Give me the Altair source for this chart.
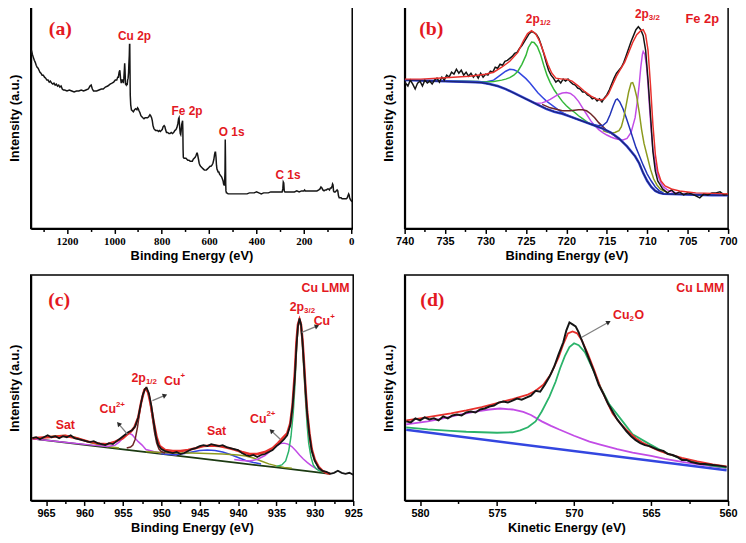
import altair as alt
import pandas as pd

# ---------------- colours ----------------
BLACK = "#151515"
RED = "#e8302c"
BLUE = "#3346e0"
DKBLUE = "#2233b8"
NAVY = "#1d2470"
GREEN = "#35b83a"
TEAL = "#2bb36a"
OLIVE = "#8c9a1e"
MAGENTA = "#c24ce6"
BROWN = "#6e2626"
LABEL_RED = "#e3191f"

# ================= (a) survey =================
A_EV = [1350, 1346, 1342, 1338, 1334, 1330, 1326, 1322, 1318, 1314, 1310, 1305, 1300, 1295, 1290, 1285, 1280, 1275, 1270, 1265,
        1260, 1255, 1250, 1245, 1240, 1235, 1230, 1225, 1220, 1215, 1210, 1200, 1190, 1180, 1170, 1160, 1150, 1140, 1130, 1120,
        1110, 1103, 1098, 1093, 1088, 1082, 1075, 1065, 1055, 1047, 1038, 1028, 1018, 1010, 1003, 996, 990, 986, 983, 980,
        977, 974, 971, 968, 965, 962, 960, 958, 956.5, 955, 953, 950, 948, 946, 944, 942, 940, 939, 937, 936,
        935, 934, 933, 931, 928, 924, 920, 915, 910, 905, 902, 899, 896, 892, 888, 884, 880, 875, 870, 865,
        860, 855, 850, 847, 843, 840, 837, 833, 830, 826, 822, 818, 814, 810, 806, 802, 798, 794, 790, 787,
        784, 780, 775, 770, 765, 760, 755, 750, 745, 740, 736, 732, 729, 727, 725, 722, 720, 718, 716, 714,
        712, 711, 710, 709, 706, 702, 698, 694, 690, 685, 680, 675, 671, 667, 663, 659, 655, 652, 650, 648,
        645, 642, 639, 636, 632, 628, 624, 620, 616, 612, 608, 604, 600, 596, 592, 588, 584, 580, 577, 575,
        573, 571, 569, 567, 565, 562, 559, 556, 553, 550, 547, 544, 541, 539, 537, 535, 533, 532, 531, 530,
        529, 527, 525, 520, 510, 500, 490, 480, 470, 460, 450, 440, 430, 420, 410, 400, 390, 380, 370, 360,
        350, 340, 330, 320, 310, 300, 292, 289, 287, 285, 283, 280, 270, 260, 250, 240, 230, 220, 210, 200,
        197, 194, 185, 175, 165, 155, 145, 137, 132, 128, 124, 120, 115, 110, 105, 100, 96, 92, 88, 84,
        81, 79, 77, 75, 72, 68, 64, 60, 57, 54, 51, 47, 43, 39, 35, 31, 27, 24, 21, 17,
        14, 11, 9, 7, 5, 3, 0, -3]
A_INT = [180, 176, 173, 170, 168, 165, 163, 162, 160, 158, 157, 155, 155, 153, 152, 150, 150, 148, 149, 147,
         146, 147, 145, 146, 144, 145, 143, 144, 141, 140, 140, 139, 140, 139, 138, 139, 139, 140, 139, 140,
         141, 144, 145, 141, 139, 139, 139, 140, 141, 141, 143, 144, 146, 147, 148, 150, 150, 153, 153, 158,
         160, 152, 147, 150, 150, 147, 152, 160, 167, 160, 146, 145, 147, 145, 150, 152, 158, 165, 175, 186,
         186, 160, 135, 125, 120, 119, 118, 120, 121, 120, 122, 121, 119, 117, 114, 113, 112, 111, 112, 112,
         112, 113, 115, 114, 112, 109, 104, 101, 100, 99, 99, 99, 98, 99, 98, 99, 100, 103, 104, 103,
         100, 97, 97, 96, 96, 97, 96, 97, 99, 100, 102, 106, 111, 112, 104, 96, 95, 99, 105, 107,
         109, 100, 80, 72, 71, 71, 71, 70, 69, 69, 68, 68, 68, 70, 71, 72, 74, 76, 76, 74,
         70, 66, 64, 63, 62, 61, 60, 59, 59, 59, 60, 61, 62, 63, 63, 64, 66, 70, 75, 77,
         77, 72, 64, 60, 59, 57, 57, 55, 54, 53, 52, 50, 48, 45, 44, 44, 58, 90, 72, 45,
         38, 36, 36, 35, 35, 35, 35, 35, 35, 35, 35, 35, 36, 36, 36, 37, 36, 35, 36, 36,
         36, 37, 37, 37, 37, 37, 37, 40, 47, 46, 38, 37, 37, 37, 37, 37, 38, 37, 38, 38,
         39, 38, 38, 38, 38, 38, 38, 39, 40, 42, 41, 39, 38, 39, 39, 40, 40, 39, 41, 41,
         43, 45, 44, 38, 37, 37, 38, 39, 38, 33, 31, 31, 31, 30, 30, 30, 30, 30, 30, 31,
         33, 35, 34, 31, 30, 29, 28, 27]
A_TICKS = [1300, 1200, 1100, 1000, 900, 800, 700, 600, 500, 400, 300, 200, 100, 0]
A_LBL_TEXT = ["Cu 2p", "Fe 2p", "O 1s", "C 1s"]
A_LBL_EV = [915, 693, 505, 267]
A_LBL_INT = [195, 119, 97, 54]

# ================= (b) Fe 2p =================
B_DATA_EV = [740.0, 739.6, 739.3, 739.0, 738.7, 738.4, 738.1, 737.8, 737.5, 737.2, 736.9, 736.6, 736.3, 736.0, 735.7, 735.4,
             735.1, 734.8, 734.5, 734.2, 733.9, 733.6, 733.3, 733.0, 732.7, 732.4, 732.1, 731.8, 731.5, 731.2, 730.9, 730.6,
             730.3, 730.0, 729.7, 729.4, 729.1, 728.8, 728.5, 728.2, 727.9, 727.6, 727.3, 727.0, 726.7, 726.4, 726.1, 725.8,
             725.5, 725.2, 724.9, 724.6, 724.3, 724.0, 723.7, 723.4, 723.1, 722.8, 722.5, 722.2, 721.9, 721.6, 721.3, 721.0,
             720.7, 720.4, 720.1, 719.8, 719.5, 719.2, 718.9, 718.6, 718.3, 718.0, 717.7, 717.4, 717.1, 716.8, 716.5, 716.2,
             715.9, 715.6, 715.3, 715.0, 714.7, 714.4, 714.1, 713.8, 713.5, 713.2, 712.9, 712.6, 712.3, 712.0, 711.7, 711.4,
             711.1, 710.8, 710.5, 710.2, 709.9, 709.6, 709.3, 709.0, 708.7, 708.4, 708.1, 707.8, 707.5, 707.0, 706.5, 706.0,
             705.5, 705.0, 704.5, 704.0, 703.5, 703.0, 702.5, 702.0, 701.5, 701.0, 700.5, 700.0]
B_DATA_INT = [148, 144, 150, 146, 141, 147, 149, 144, 150, 147, 149, 146, 150, 152, 148, 153,
              150, 155, 153, 158, 156, 161, 157, 160, 155, 158, 154, 157, 153, 156, 152, 157,
              153, 156, 155, 159, 158, 163, 162, 166, 165, 169, 170, 172, 174, 177, 178, 182,
              185, 189, 193, 197, 199, 198, 196, 192, 185, 177, 168, 160, 155, 152, 148, 150,
              147, 151, 149, 151, 148, 146, 145, 142, 141, 138, 138, 135, 134, 131, 132, 129,
              131, 128, 132, 135, 140, 146, 152, 157, 160, 163, 168, 175, 182, 189, 195, 201,
              204, 201, 195, 180, 150, 115, 78, 58, 48, 44, 40, 38, 36, 39, 35, 37,
              34, 36, 35, 33, 31, 35, 34, 36, 36, 37, 34, 35]
B_FIT_EV = [740, 738, 736, 734, 732, 730, 729, 728, 727, 726, 725.3, 724.8, 724.3, 723.8, 723.3, 722.8, 722.3, 721.8,
            721.3, 720.5, 720, 719.3, 718.5, 717.8, 717, 716.3, 715.8, 715.3, 714.8, 714.3, 713.8, 713.3, 712.8, 712.3,
            711.8, 711.3, 710.8, 710.5, 710.2, 709.9, 709.6, 709.3, 709.0, 708.7, 708.3, 707.8, 707, 706, 705, 704, 702, 700]
B_FIT_INT = [151, 151, 152, 153, 154, 156, 158, 163, 169, 178, 190, 197, 200, 197, 189, 178, 166, 157,
             152, 151, 151, 149, 144, 139, 134, 131, 130, 131, 136, 145, 154, 161, 168, 178,
             188, 196, 200, 201, 196, 180, 145, 105, 75, 58, 48, 43, 40, 38, 37, 36, 35.5, 35]
B_BG_EV = [740, 738, 736, 734, 732, 730.5, 729.5, 728.5, 727.5, 726.5, 725.5, 724.5, 723.5, 722.5, 721.5, 720.5, 719.5,
           718.5, 717.5, 716.5, 715.5, 714.5, 713.5, 712.5, 711.5, 711, 710.5, 710, 709.5, 709, 708.5, 708, 706, 704, 702, 700]
B_BG_INT = [150, 149.5, 149, 148.5, 148, 147.5, 146, 144, 141, 137, 133, 129, 125, 121, 118, 116, 113,
            110, 107, 104, 101, 97, 91, 83, 73, 66, 56, 48, 42, 38, 36, 35, 34.5, 34, 33.7, 33.5]
B_P1_EV = [735, 731, 730, 729, 728.5, 728, 727.5, 727, 726.5, 726, 725.5, 725, 724.5, 724, 723.5, 723, 722.5, 722,
           721.5, 721, 720.5, 720, 719, 718]
B_P1_INT = [149, 148.5, 148, 150, 153, 156, 159, 161, 160.5, 158.5, 155, 151.5, 147, 142, 137, 133, 129, 126,
            123, 120, 117, 115, 111.5, 108.5]
B_P2_EV = [735, 731, 730, 729, 728, 727.5, 727, 726.5, 726, 725.5, 725, 724.7, 724.3, 724, 723.6, 723.2, 722.8, 722.4,
           722, 721.5, 721, 720.5, 720, 719.5, 719, 718.5, 718, 717.5, 717, 716.5, 716]
B_P2_INT = [149, 148.5, 148, 148.5, 150, 151, 152.5, 155, 159, 166, 175, 183, 188.5, 188, 184, 176, 165, 155,
            147.5, 140, 134, 128.5, 124, 120.5, 117.5, 114, 111, 108, 105.5, 104, 102]
B_P3_EV = [724.5, 724, 723.5, 723, 722.5, 722, 721.5, 721, 720.5, 720, 719.5, 719, 718.5, 718, 717.5, 717, 716.5, 716,
           715.5, 715, 714.5, 714, 713.5, 713, 712.5, 712, 711.5, 711.2, 711, 710.8, 710.6, 710.5, 710.3, 710.1, 709.9,
           709.7, 709.5, 709.3, 709, 708.7, 708.3, 708, 707.5, 707, 706, 705]
B_P3_INT = [129, 127, 126.5, 127, 128.5, 130.5, 133, 135.5, 137, 137.5, 136.5, 133.5, 128.5, 122, 115.5, 109, 104, 100,
            97, 94.5, 92.5, 91, 90, 89.5, 91, 97, 112, 130, 145, 163, 176, 179, 176, 165, 145,
            120, 98, 80, 65, 54, 46, 42, 39, 37, 35.5, 34.5]
B_P4_EV = [723, 722, 721, 720.5, 720, 719.5, 719, 718.5, 718, 717.5, 717, 716.5, 716, 715.5, 715, 714.5, 714, 713.5]
B_P4_INT = [125.5, 122, 120, 119, 119, 119, 119.5, 120, 120, 119, 116, 112, 107, 103, 99, 96.5, 93.5, 90]
B_P5_EV = [717.5, 717, 716.5, 716, 715.5, 715, 714.6, 714.2, 713.9, 713.7, 713.4, 713, 712.6, 712.2, 711.8, 711.4,
           711, 710.5, 710, 709.5, 709, 708.5, 708]
B_P5_INT = [107, 106, 105, 104, 104, 107.5, 115, 124, 130, 131, 128, 121, 112, 102, 92, 82,
            74, 64, 55, 48, 42, 38, 36]
B_P6_EV = [715.5, 715, 714.5, 714, 713.5, 713.2, 712.9, 712.6, 712.3, 712, 711.8, 711.6, 711.3, 711, 710.7, 710.4,
           710, 709.6, 709.2, 708.8, 708.4, 708, 707.5]
B_P6_INT = [99, 97.5, 96.5, 97, 99, 103, 112, 125, 138, 147, 147.5, 143, 133, 118, 100, 86,
            73, 60, 50, 44, 40, 38, 36.5]
B_TICKS = [740, 737.5, 735, 732.5, 730, 727.5, 725, 722.5, 720, 717.5, 715, 712.5, 710, 707.5, 705, 702.5, 700]

# ================= (c) Cu 2p =================
C_DATA_EV = [966.8, 966.3, 965.8, 965.3, 964.8, 964.3, 963.8, 963.3, 962.8, 962.3, 961.8, 961.3, 960.8, 960.3, 959.8,
             959.3, 958.8, 958.3, 957.8, 957.3, 956.8, 956.3, 955.8, 955.3, 954.8, 954.3, 953.8, 953.4, 953.0, 952.7,
             952.4, 952.1, 951.9, 951.6, 951.3, 951.0, 950.7, 950.4, 950.0, 949.5, 949.0, 948.5, 948.0, 947.5, 947.0,
             946.5, 946.0, 945.5, 945.0, 944.5, 944.0, 943.5, 943.0, 942.5, 942.0, 941.5, 941.0, 940.5, 940.0, 939.5,
             939.0, 938.5, 938.0, 937.5, 937.0, 936.5, 936.0, 935.5, 935.0, 934.5, 934.0, 933.6, 933.2, 932.9, 932.6,
             932.4, 932.2, 932.0, 931.8, 931.6, 931.4, 931.2, 931.0, 930.7, 930.4, 930.0, 929.5, 929.0, 928.5, 928.0,
             927.5, 927.0, 926.5, 926.0, 925.5, 925.0]
C_DATA_INT = [63, 64, 62, 64, 66, 64, 65, 63, 65, 64, 66, 63, 62, 61, 60,
              59, 60, 58, 57, 56, 58, 57, 60, 63, 66, 69, 71, 75, 84, 96,
              107, 113, 114, 108, 96, 80, 65, 56, 52, 50, 49, 48, 49, 47, 48,
              50, 52, 53, 55, 56, 55, 57, 56, 55, 56, 54, 53, 52, 51, 48,
              46, 45, 46, 44, 46, 47, 49, 51, 55, 58, 62, 66, 76, 95, 125,
              155, 176, 184, 178, 160, 135, 110, 88, 66, 50, 40, 33, 30, 29, 27,
              28, 30, 28, 27, 28, 26]
C_FIT_EV = [966.8, 964, 962.5, 961, 959.5, 958, 957, 956, 955, 954.5, 954, 953.5, 953, 952.6, 952.2, 952, 951.7, 951.4,
            951, 950.6, 950.2, 949.5, 948.5, 947.5, 946.5, 945.5, 944.5, 943.5, 942.5, 941.5, 940.5, 939.5, 938.5,
            937.5, 936.5, 935.5, 934.8, 934.2, 933.6, 933.2, 932.9, 932.6, 932.4, 932.2, 932.0, 931.8, 931.6, 931.4,
            931.2, 931.0, 930.7, 930.4, 930, 929.5, 929, 928.5, 928]
C_FIT_INT = [63, 64.5, 65.5, 63, 59.5, 57.5, 57, 59.5, 63, 66.5, 69.5, 74, 84, 100, 112, 113, 109, 98,
             80, 64, 55, 51, 50, 50, 51, 53, 55, 55.5, 55, 53.5, 51.5, 49, 47,
             47, 49, 53, 58, 63, 68, 78, 97, 130, 160, 178, 183, 178, 162, 138,
             112, 90, 68, 52, 41, 34, 30, 28, 27]
C_BG_EV = [966.8, 955, 945, 935, 928]
C_BG_INT = [62.5, 51.7, 42.6, 33.4, 27]
C_SATL_EV = [966.8, 965.5, 964.5, 963.5, 962.5, 961.5, 960.5, 959.5, 958.5, 957.5, 956.5, 955.5]
C_SATL_INT = [63, 63.5, 64.5, 65.5, 65.8, 64.5, 62, 59, 57, 55, 54, 53]
C_CU2L_EV = [966.8, 962, 959, 957, 956, 955.5, 955, 954.6, 954.2, 953.8, 953.4, 953, 952.5, 952, 951, 950, 949, 948]
C_CU2L_INT = [62.5, 58.5, 56, 54.5, 56, 59, 63, 66.5, 68, 66.5, 63, 59.5, 56, 51.5, 49.5, 48, 47, 46]
C_CU1L_EV = [954.5, 954, 953.7, 953.4, 953.1, 952.8, 952.5, 952.2, 952, 951.8, 951.5, 951.2, 950.9, 950.6, 950.3,
             950, 949.5]
C_CU1L_INT = [53, 54, 56, 62, 74, 90, 104, 112, 114, 111, 102, 86, 70, 58, 52, 49.5, 48]
C_SATM_EV = [950, 949, 948, 947, 946, 945, 944, 943, 942, 941, 940, 939, 938, 937]
C_SATM_INT = [47.2, 46.5, 46.5, 47.5, 49, 50.5, 51, 50.5, 49, 46.5, 43.5, 40.5, 38.5, 37]
C_SATO_EV = [952, 950, 948, 946, 944, 942, 940, 939, 938, 937, 936, 935, 934, 933]
C_SATO_INT = [49.5, 48.5, 48, 48, 47.5, 47, 46, 45, 43, 40, 37, 35, 33.5, 32.5]
C_CU2R_EV = [940.5, 939.5, 938.5, 937.5, 936.5, 936, 935.5, 935, 934.5, 934, 933.5, 933, 932.5, 932, 931.5, 931,
             930.5, 930, 929.5, 929, 928.5, 928]
C_CU2R_INT = [41.5, 40.5, 40, 41.5, 45.5, 48.5, 52, 55, 57.5, 58, 57, 54.5, 50.5, 46, 42, 38.5,
              35.5, 33, 31, 29.5, 28, 27.2]
C_CU1R_EV = [935, 934.3, 933.8, 933.4, 933.1, 932.8, 932.6, 932.4, 932.2, 932.0, 931.8, 931.6, 931.4, 931.2, 931.0,
             930.8, 930.5, 930.2, 929.8, 929.3, 928.8]
C_CU1R_INT = [34.5, 36, 40, 50, 65, 90, 115, 150, 175, 182, 176, 155, 128, 100, 76,
              58, 44, 36, 32, 29.5, 28.5]
C_TICKS = [965, 962.5, 960, 957.5, 955, 952.5, 950, 947.5, 945, 942.5, 940, 937.5, 935, 932.5, 930, 927.5, 925]

# ================= (d) Cu LMM =================
D_DATA_EV = [580.9, 580.6, 580.3, 580.0, 579.7, 579.4, 579.1, 578.8, 578.5, 578.2, 577.9, 577.6, 577.3, 577.0, 576.7,
             576.4, 576.1, 575.8, 575.5, 575.2, 574.9, 574.6, 574.3, 574.0, 573.7, 573.4, 573.1, 572.8, 572.5, 572.2,
             571.9, 571.6, 571.3, 571.0, 570.7, 570.5, 570.3, 570.1, 569.9, 569.7, 569.5, 569.3, 569.0, 568.7, 568.4,
             568.1, 567.8, 567.5, 567.2, 566.9, 566.6, 566.3, 566.0, 565.7, 565.4, 565.1, 564.8, 564.5, 564.2, 563.9,
             563.6, 563.3, 563.0, 562.7, 562.4, 562.1, 561.8, 561.5, 561.0, 560.5, 560.1]
D_DATA_INT = [80, 79, 83, 81, 84, 82, 83, 81, 85, 83, 86, 87, 86, 89, 90,
              89, 92, 93, 95, 96, 99, 100, 99, 101, 103, 102, 104, 106, 111, 110,
              117, 125, 135, 148, 160, 172, 180, 178, 176, 170, 162, 154, 142, 130, 117,
              108, 98, 90, 82, 76, 70, 65, 61, 58, 56, 55, 53, 51, 50, 47,
              46, 44, 41, 41, 39, 38, 37, 37, 36, 35, 34]
D_FIT_EV = [580.9, 580, 579, 578, 577, 576, 575, 574, 573, 572.5, 572, 571.5, 571, 570.7, 570.4, 570.1, 569.8, 569.5,
            569.1, 568.7, 568.3, 567.9, 567.5, 567, 566.5, 566, 565.5, 565, 564.5, 564, 563, 562, 561, 560.1]
D_FIT_INT = [81, 83, 85.5, 88, 91, 94.5, 98.5, 102.5, 107, 111, 117, 128, 145, 158, 169, 171, 169, 162,
             148, 132, 115, 101, 88, 78, 70, 63, 58, 54, 50.5, 47.5, 43, 39.5, 36.5, 34.5]
D_BG_EV = [580.9, 560.1]
D_BG_INT = [71.5, 30.5]
D_CU2O_EV = [580.9, 579.5, 578, 577, 576, 575, 574, 573.5, 573, 572.5, 572.1, 571.6, 571.2, 570.9, 570.6, 570.3, 570,
             569.7, 569.3, 568.7, 568.3, 567.7, 567, 566.2, 565.1, 564.1, 563, 561.9, 561, 560.1]
D_CU2O_INT = [74, 72, 70.5, 69.5, 69, 68.5, 69, 71, 74, 80, 90, 105, 120, 134, 146, 155, 159,
              157, 150, 130, 115, 97, 83, 67, 57, 48.5, 42, 37.5, 35, 33.3]
D_P2_EV = [580.9, 579.5, 578.5, 577.5, 576.5, 575.5, 574.8, 574, 573.3, 572.8, 572.1, 571.5, 571, 570, 569, 568.3,
           567.2, 566.2, 565, 564.1, 563, 561.9, 561, 560.1]
D_P2_INT = [77, 80, 83, 86.5, 89.5, 92, 93, 92, 89.5, 86.5, 80, 75.5, 72, 65.5, 59.5, 56.5,
            52, 48.5, 45, 42, 39, 36.5, 34.5, 33]
D_TICKS = [580, 577.5, 575, 572.5, 570, 567.5, 565, 562.5, 560]

FONT_SANS = "Liberation Sans"
FONT_SERIF = "Liberation Serif"


def xy(xs, ys):
    pairs = list(zip(xs, ys))
    return pd.DataFrame({"x": [p[0] for p in pairs], "y": [p[1] for p in pairs]})


def make_panel(xdom, ydom, w, h, ticks, major, tick_font, title_x, series, texts, arrows):
    xscale = alt.Scale(domain=xdom, nice=False, zero=False)
    yscale = alt.Scale(domain=ydom, nice=False, zero=False)
    xaxis = alt.Axis(
        values=ticks, format="d", title=title_x,
        labelExpr=f"datum.value % {major} === 0 ? datum.label : ''",
        tickSize={"condition": {"test": f"datum.value % {major} === 0", "value": 5}, "value": 3},
        tickWidth=1.5, domainWidth=2, labelFont=tick_font, labelFontSize=11, labelFontWeight="bold",
        labelPadding=2, titleFont=FONT_SANS, titleFontSize=13, titleFontWeight="bold", titlePadding=3,
        labelFlush=False, labelOverlap=False,
    )
    yaxis = alt.Axis(
        title="Intensity (a.u.)", labels=False, ticks=False, domainWidth=2,
        titleFont=FONT_SANS, titleFontSize=13, titleFontWeight="bold", titlePadding=9,
    )
    layers = []
    for (xs, ys, color, width) in series:
        layers.append(
            alt.Chart(xy(xs, ys)).mark_line(color=color, strokeWidth=width, clip=True).encode(
                x=alt.X("x:Q", scale=xscale, axis=xaxis),
                y=alt.Y("y:Q", scale=yscale, axis=yaxis),
            )
        )
    for (x0, y0, x1, y1, ang) in arrows:
        adf = pd.DataFrame({"x": [x0], "y": [y0], "x2": [x1], "y2": [y1], "a": [ang]})
        layers.append(alt.Chart(adf).mark_rule(color="#808080", strokeWidth=1.3).encode(
            x=alt.X("x:Q", scale=xscale, axis=xaxis), y=alt.Y("y:Q", scale=yscale, axis=yaxis),
            x2="x2:Q", y2="y2:Q"))
        layers.append(alt.Chart(adf).mark_point(shape="triangle", filled=True, size=28, color="#2a2a2a",
                                                opacity=1).encode(
            x=alt.X("x2:Q", scale=xscale, axis=xaxis), y=alt.Y("y2:Q", scale=yscale, axis=yaxis),
            angle=alt.Angle("a:Q", scale=None)))
    for t in texts:
        (tx, ty, txt, size, font, align, dx, dy) = t
        tdf = pd.DataFrame({"x": [tx], "y": [ty], "t": [txt]})
        layers.append(alt.Chart(tdf).mark_text(
            font=font, fontSize=size, fontWeight="bold", color=LABEL_RED, align=align,
            baseline="middle", dx=dx, dy=dy).encode(
            x=alt.X("x:Q", scale=xscale, axis=xaxis), y=alt.Y("y:Q", scale=yscale, axis=yaxis),
            text="t:N"))
    return alt.layer(*layers).properties(width=w, height=h)


# ---- panel (a)
a_texts = [(1228, 202, "(a)", 20, FONT_SERIF, "center", 0, 0)]
for t, ex, iy in zip(A_LBL_TEXT, A_LBL_EV, A_LBL_INT):
    a_texts.append((ex, iy, t, 12, FONT_SANS, "center", 0, 0))
pa = make_panel([1353, -4], [0, 224], 325, 224, A_TICKS, 200, FONT_SERIF, "Binding Energy (eV)",
                [(A_EV, A_INT, BLACK, 1.5)], a_texts, [])

# ---- panel (b)
b_texts = [
    (736.7, 202, "(b)", 20, FONT_SERIF, "center", 0, 0),
    (703.2, 212, "Fe 2p", 13, FONT_SANS, "center", 0, 0),
    (723.3, 212, "2p", 12, FONT_SANS, "right", 0, 0),
    (723.3, 212, "1/2", 8, FONT_SANS, "left", 0, 4),
    (709.8, 217, "2p", 12, FONT_SANS, "right", 0, 0),
    (709.8, 217, "3/2", 8, FONT_SANS, "left", 0, 4),
]
pb = make_panel([740, 700], [0, 224], 327, 224, B_TICKS, 5, FONT_SANS, "Binding Energy (eV)",
                [(B_P1_EV, B_P1_INT, BLUE, 1.5), (B_P2_EV, B_P2_INT, GREEN, 1.5),
                 (B_P3_EV, B_P3_INT, MAGENTA, 1.5), (B_P4_EV, B_P4_INT, BROWN, 1.5),
                 (B_P5_EV, B_P5_INT, DKBLUE, 1.5), (B_P6_EV, B_P6_INT, OLIVE, 1.5),
                 (B_BG_EV, B_BG_INT, BLUE, 2.5), (B_BG_EV, B_BG_INT, NAVY, 1.2),
                 (B_DATA_EV, B_DATA_INT, BLACK, 1.5), (B_FIT_EV, B_FIT_INT, RED, 1.5)],
                b_texts, [])

# ---- panel (c)
c_texts = [
    (963.3, 203, "(c)", 20, FONT_SERIF, "center", 0, 0),
    (928.6, 215, "Cu LMM", 12.5, FONT_SANS, "center", 0, 0),
    (931.4, 196, "2p", 12.5, FONT_SANS, "right", 0, 0),
    (931.4, 196, "3/2", 8, FONT_SANS, "left", 0, 4),
    (928.0, 181, "Cu", 12.5, FONT_SANS, "right", 0, 0),
    (928.0, 181, "+", 8, FONT_SANS, "left", 0, -5),
    (952.0, 124, "2p", 12.5, FONT_SANS, "right", 0, 0),
    (952.0, 124, "1/2", 8, FONT_SANS, "left", 0, 4),
    (947.5, 121, "Cu", 12.5, FONT_SANS, "right", 0, 0),
    (947.5, 121, "+", 8, FONT_SANS, "left", 0, -5),
    (955.9, 92, "Cu", 12.5, FONT_SANS, "right", 0, 0),
    (955.9, 92, "2+", 8, FONT_SANS, "left", 0, -5),
    (936.3, 82, "Cu", 12.5, FONT_SANS, "right", 0, 0),
    (936.3, 82, "2+", 8, FONT_SANS, "left", 0, -5),
    (962.5, 76, "Sat", 12.5, FONT_SANS, "center", 0, 0),
    (942.8, 70, "Sat", 12.5, FONT_SANS, "center", 0, 0),
]
c_arrows = [
    (931.7, 170, 929.8, 176, 68),
    (951.15, 101, 949.6, 106, 67),
    (954.4, 67, 955.5, 77, 318),
    (934.5, 62, 935.6, 70, 315),
]
pc = make_panel([967, 925], [0, 228], 326, 228, C_TICKS, 5, FONT_SANS, "Binding Energy (eV)",
                [(C_BG_EV, C_BG_INT, "#1c3a12", 1.8), (C_SATL_EV, C_SATL_INT, OLIVE, 1.5),
                 (C_CU2L_EV, C_CU2L_INT, MAGENTA, 1.5), (C_SATM_EV, C_SATM_INT, BLUE, 1.5),
                 (C_SATO_EV, C_SATO_INT, OLIVE, 1.5), (C_CU2R_EV, C_CU2R_INT, MAGENTA, 1.5),
                 (C_CU1L_EV, C_CU1L_INT, BROWN, 1.5), (C_CU1R_EV, C_CU1R_INT, TEAL, 1.5),
                 (C_FIT_EV, C_FIT_INT, RED, 2.5), (C_DATA_EV, C_DATA_INT, BLACK, 1.8)],
                c_texts, c_arrows)

# ---- panel (d)
d_texts = [
    (579.2, 203, "(d)", 20, FONT_SERIF, "center", 0, 0),
    (561.8, 215, "Cu LMM", 12.5, FONT_SANS, "center", 0, 0),
    (566.4, 187, "Cu", 12.5, FONT_SANS, "right", 0, 0),
    (566.4, 187, "2", 8, FONT_SANS, "left", 0, 4),
    (566.4, 187, "O", 12.5, FONT_SANS, "left", 5, 0),
]
d_arrows = [(569.5, 165, 567.8, 180, 61)]
pd_ = make_panel([581, 560], [0, 228], 327, 228, D_TICKS, 5, FONT_SANS, "Kinetic Energy (eV)",
                 [(D_BG_EV, D_BG_INT, BLUE, 2.5), (D_P2_EV, D_P2_INT, MAGENTA, 1.8),
                  (D_CU2O_EV, D_CU2O_INT, TEAL, 1.8), (D_FIT_EV, D_FIT_INT, RED, 1.8),
                  (D_DATA_EV, D_DATA_INT, BLACK, 2)],
                 d_texts, d_arrows)

chart = alt.concat(pa, pb, pc, pd_, columns=2, spacing={"row": 47, "column": 52}, bounds="flush",
                   align="each").properties(
    padding={"left": 0, "top": -5, "right": 0, "bottom": 0},
    background="white",
).configure_view(stroke="black", strokeWidth=1.5).configure_axis(
    domainColor="black", tickColor="black", labelColor="black", titleColor="black", grid=False
)

chart.save("out.html", embed_options={"renderer": "svg", "actions": False})
